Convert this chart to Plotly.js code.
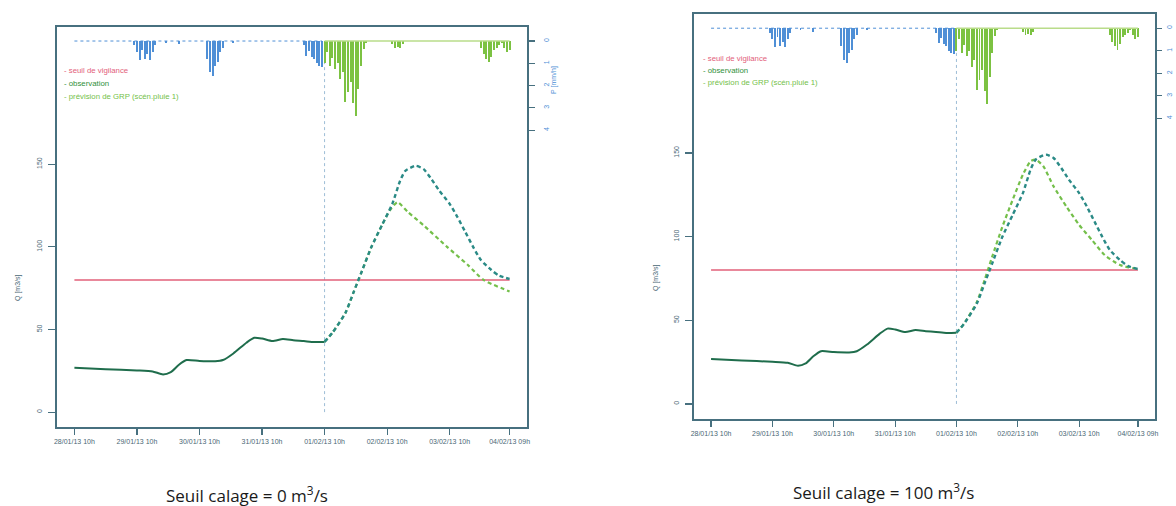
<!DOCTYPE html>
<html>
<head>
<meta charset="utf-8">
<script src="https://cdn.plot.ly/plotly-3.0.1.min.js"></script>
<style>
html,body{margin:0;padding:0;background:#fff;}
#chart{width:1176px;height:506px;}
</style>
</head>
<body>
<div id="chart"></div>
<script>
// ---------- DATA ----------
// x axis: hours since 28/01/13 10h
const tickHours = [0, 24, 48, 72, 96, 120, 144, 167];
const tickLabels = ["28/01/13 10h","29/01/13 10h","30/01/13 10h","31/01/13 10h","01/02/13 10h","02/02/13 10h","03/02/13 10h","04/02/13 09h"];
const forecastStartHour = 96;
const seuilVigilance = 80;

// observed discharge before forecast time (solid)
const obsHours = [0, 12, 24, 30, 34, 37, 40, 43, 48, 54, 57, 61, 66, 69, 72, 76, 80, 84, 88, 92, 96];
const obsQ     = [26.8, 26.0, 25.2, 24.6, 22.8, 24.2, 28.5, 31.5, 31.0, 30.8, 31.5, 35.5, 42, 45, 44.5, 43, 44.2, 43.5, 43, 42.4, 42.5];
// observed discharge after forecast time (dashed)
const obsFutHours = [96, 99, 104, 107, 110, 114, 118, 122, 125, 127, 131, 134, 137, 140, 144, 147, 150, 153, 156, 160, 163, 167];
const obsFutQ     = [42.5, 48, 60, 72, 84, 100, 113, 126, 140, 146, 149, 147, 141, 134, 126, 118, 109, 100, 92, 86, 82.5, 80.6];
// GRP forecasts
const fcLeftHours  = [96, 99, 104, 107, 110, 114, 118, 121, 124, 128, 134, 143, 151, 157, 167];
const fcLeftQ      = [42.5, 48, 60, 72, 84, 100, 113, 122, 127, 121, 113, 100, 89, 80, 73];
const fcRightHours = [96, 99, 104, 107, 110, 114, 118, 122, 125, 127, 130, 134, 139, 144, 149, 154, 160, 167];
const fcRightQ     = [42.5, 48, 61, 74, 88, 106, 122, 137, 145, 146, 142, 130, 118, 107, 98, 89, 83, 80.6];

// hourly rainfall [mm/h]
const rainObsStart = 0;
const rainObs = [
  0,0,0,0,0,0,0,0,0,0,
  0,0,0,0,0,0,0,0,0,0,
  0,0,0,0.2,0.5,0.85,0.4,0.8,0.6,0.85,
  0.5,0.2,0,0,0,0.1,0,0,0,0,
  0.15,0,0,0,0,0,0,0,0,0,
  0,0.8,1.4,1.55,1.1,0.95,0.5,0.3,0,0,
  0,0.1,0,0,0,0,0,0,0,0,
  0,0,0,0,0,0,0,0,0,0,
  0,0,0,0,0,0,0,0,0.2,0.65,
  0.45,0.7,0.8,1.0,1.1,1.15];
const rainFcStart = 96;
const rainFc = [
  1.0,0.5,1.1,0.75,1.25,1.0,1.7,1.4,2.75,2.3,
  1.85,2.8,3.35,2.15,1.1,0.35,0.1,0,0,0,
  0,0,0,0,0,0,0.15,0.3,0.25,0.3,
  0.15,0,0,0,0,0,0,0,0,0,
  0,0,0,0,0,0,0,0,0,0,
  0,0,0,0,0,0,0,0,0,0,
  0.3,0.6,0.8,0.95,0.7,0.4,0.3,0.2,0.1,0.3,
  0.5,0.4];
const rainTicks = [0, 1, 2, 3, 4];
const qTicks = [0, 50, 100, 150];

const legendLabels = ["seuil de vigilance", "observation", "prévision de GRP (scén.pluie 1)"];
const captions = ["Seuil calage = 0 m<sup>3</sup>/s", "Seuil calage = 100 m<sup>3</sup>/s"];

// ---------- STYLE / LAYOUT ----------
const W = 1176, H = 506;
const px = v => v / W, py = v => 1 - v / H;
const QRANGE = [-9, 233];
const RAINRANGE = [17.33, -0.63];
const XRANGE = [-6.68, 173.68];
const FONT = 'Liberation Sans, Arial, sans-serif';
const C = {
  frame: '#47707f', tick: '#4a6775', obs: '#1f6d4c', obsFut: '#2a8a86', obsLegend: '#2f8f3a',
  fc: '#74bf4a', seuil: '#e2607a', rainObs: '#4f8fd6', rainFc: '#7cc242', vline: '#9dbdd6'
};

const rainObsHours = rainObs.map((_, i) => rainObsStart + i);
const rainFcHours = rainFc.map((_, i) => rainFcStart + i);
const seuilHours = [tickHours[0], tickHours[tickHours.length - 1]];

function panelTraces(xa, ya, ya2, fcH, fcQ) {
  return [
    {x: rainObsHours, y: rainObs.map(() => 0), xaxis: xa, yaxis: ya2, type: 'scatter', mode: 'lines',
     line: {color: C.rainObs, width: 1, dash: 'dot'}},
    {x: rainFcHours, y: rainFc.map(() => 0), xaxis: xa, yaxis: ya2, type: 'scatter', mode: 'lines',
     line: {color: '#b9dc8a', width: 1.5}},
    {x: rainObsHours, y: rainObs, xaxis: xa, yaxis: ya2, type: 'bar', width: 0.75,
     marker: {color: C.rainObs, line: {width: 0}}},
    {x: rainFcHours, y: rainFc, xaxis: xa, yaxis: ya2, type: 'bar', width: 0.75,
     marker: {color: C.rainFc, line: {width: 0}}},
    {x: seuilHours, y: seuilHours.map(() => seuilVigilance), xaxis: xa, yaxis: ya, type: 'scatter', mode: 'lines',
     line: {color: C.seuil, width: 1.5}},
    {x: obsHours, y: obsQ, xaxis: xa, yaxis: ya, type: 'scatter', mode: 'lines',
     line: {color: C.obs, width: 2, shape: 'spline', smoothing: 0.6}},
    {x: fcH, y: fcQ, xaxis: xa, yaxis: ya, type: 'scatter', mode: 'lines',
     line: {color: C.fc, width: 2.2, dash: '4px,3px', shape: 'spline', smoothing: 0.6}},
    {x: obsFutHours, y: obsFutQ, xaxis: xa, yaxis: ya, type: 'scatter', mode: 'lines',
     line: {color: C.obsFut, width: 2.4, dash: '4px,3px', shape: 'spline', smoothing: 0.6}}
  ];
}

const traces = [].concat(
  panelTraces('x', 'y', 'y2', fcLeftHours, fcLeftQ),
  panelTraces('x2', 'y3', 'y4', fcRightHours, fcRightQ)
);

function xAxis(domain, anchor) {
  return {domain: domain, anchor: anchor, range: XRANGE, tickmode: 'array', tickvals: tickHours, ticktext: tickLabels,
    ticks: 'outside', ticklen: 6, tickcolor: C.frame, tickwidth: 1.2, showgrid: false, zeroline: false,
    showline: true, mirror: true, linecolor: C.frame, linewidth: 1.6,
    tickfont: {family: FONT, size: 7, color: C.tick}, ticklabelstandoff: 1};
}
function yAxis(domain, anchor) {
  return {domain: domain, anchor: anchor, range: QRANGE, tickmode: 'array', tickvals: qTicks,
    ticks: 'outside', ticklen: 7, tickcolor: C.frame, tickwidth: 1.2, tickangle: -90, showgrid: false, zeroline: false,
    showline: true, mirror: true, linecolor: C.frame, linewidth: 1.6,
    tickfont: {family: FONT, size: 7, color: C.tick}, ticklabelstandoff: 4};
}
function rainAxis(overlay, anchor, len, standoff) {
  return {overlaying: overlay, anchor: anchor, side: 'right', range: RAINRANGE, tickmode: 'array', tickvals: rainTicks,
    ticks: 'outside', ticklen: len, tickcolor: C.frame, tickwidth: 1.2, tickangle: -90, showgrid: false, zeroline: false,
    showline: false, tickfont: {family: FONT, size: 7, color: C.rainObs}, ticklabelstandoff: standoff};
}

const L = {x: [px(57), px(527)], y: [py(427), py(27)]};
const R = {x: [px(694), px(1155)], y: [py(419), py(14)]};

const annotations = [];
const shapes = [];
function legend(x0, y0) {
  const colors = [C.seuil, C.obsLegend, C.fc];
  legendLabels.forEach((t, i) => {
    annotations.push({xref: 'paper', yref: 'paper', x: px(x0), y: py(y0 + i * 12.5), xanchor: 'left', yanchor: 'middle',
      showarrow: false, text: '- ' + t, font: {family: FONT, size: 7.8, color: colors[i]}});
  });
}
legend(62, 71);
legend(701, 58);

// axis titles
function vtitle(x, y, text, color) {
  annotations.push({xref: 'paper', yref: 'paper', x: px(x), y: py(y), xanchor: 'center', yanchor: 'middle',
    textangle: -90, showarrow: false, text: text, font: {family: FONT, size: 7, color: color}});
}
vtitle(18, 288, 'Q [m3/s]', C.tick);
vtitle(656, 278, 'Q [m3/s]', C.tick);
vtitle(554, 80, 'P [mm/h]', C.rainObs);
// captions
annotations.push({xref: 'paper', yref: 'paper', x: px(247), y: py(494), showarrow: false, xanchor: 'center', yanchor: 'middle',
  text: captions[0], font: {family: 'Open Sans, Noto Sans, sans-serif', size: 17, color: '#1a1a1a'}});
annotations.push({xref: 'paper', yref: 'paper', x: px(884), y: py(491), showarrow: false, xanchor: 'center', yanchor: 'middle',
  text: captions[1], font: {family: 'Open Sans, Noto Sans, sans-serif', size: 17, color: '#1a1a1a'}});

// forecast time vertical dotted line
[['x', 'y'], ['x2', 'y3']].forEach(([xr, yr]) => {
  shapes.push({type: 'line', xref: xr, yref: yr, x0: forecastStartHour, x1: forecastStartHour, y0: 0, y1: 224.5,
    line: {color: C.vline, width: 1, dash: 'dot'}, layer: 'below'});
});

const layout = {
  width: W, height: H, margin: {l: 0, r: 0, t: 0, b: 0}, paper_bgcolor: '#fff', plot_bgcolor: '#fff',
  showlegend: false, barmode: 'overlay', bargap: 0,
  xaxis: xAxis(L.x, 'y'), yaxis: yAxis(L.y, 'x'), yaxis2: rainAxis('y', 'x', 7, 6),
  xaxis2: xAxis(R.x, 'y3'), yaxis3: yAxis(R.y, 'x2'), yaxis4: rainAxis('y3', 'x2', 6, 2),
  annotations: annotations, shapes: shapes
};

Plotly.newPlot('chart', traces, layout, {staticPlot: true, displayModeBar: false});
</script>
</body>
</html>
